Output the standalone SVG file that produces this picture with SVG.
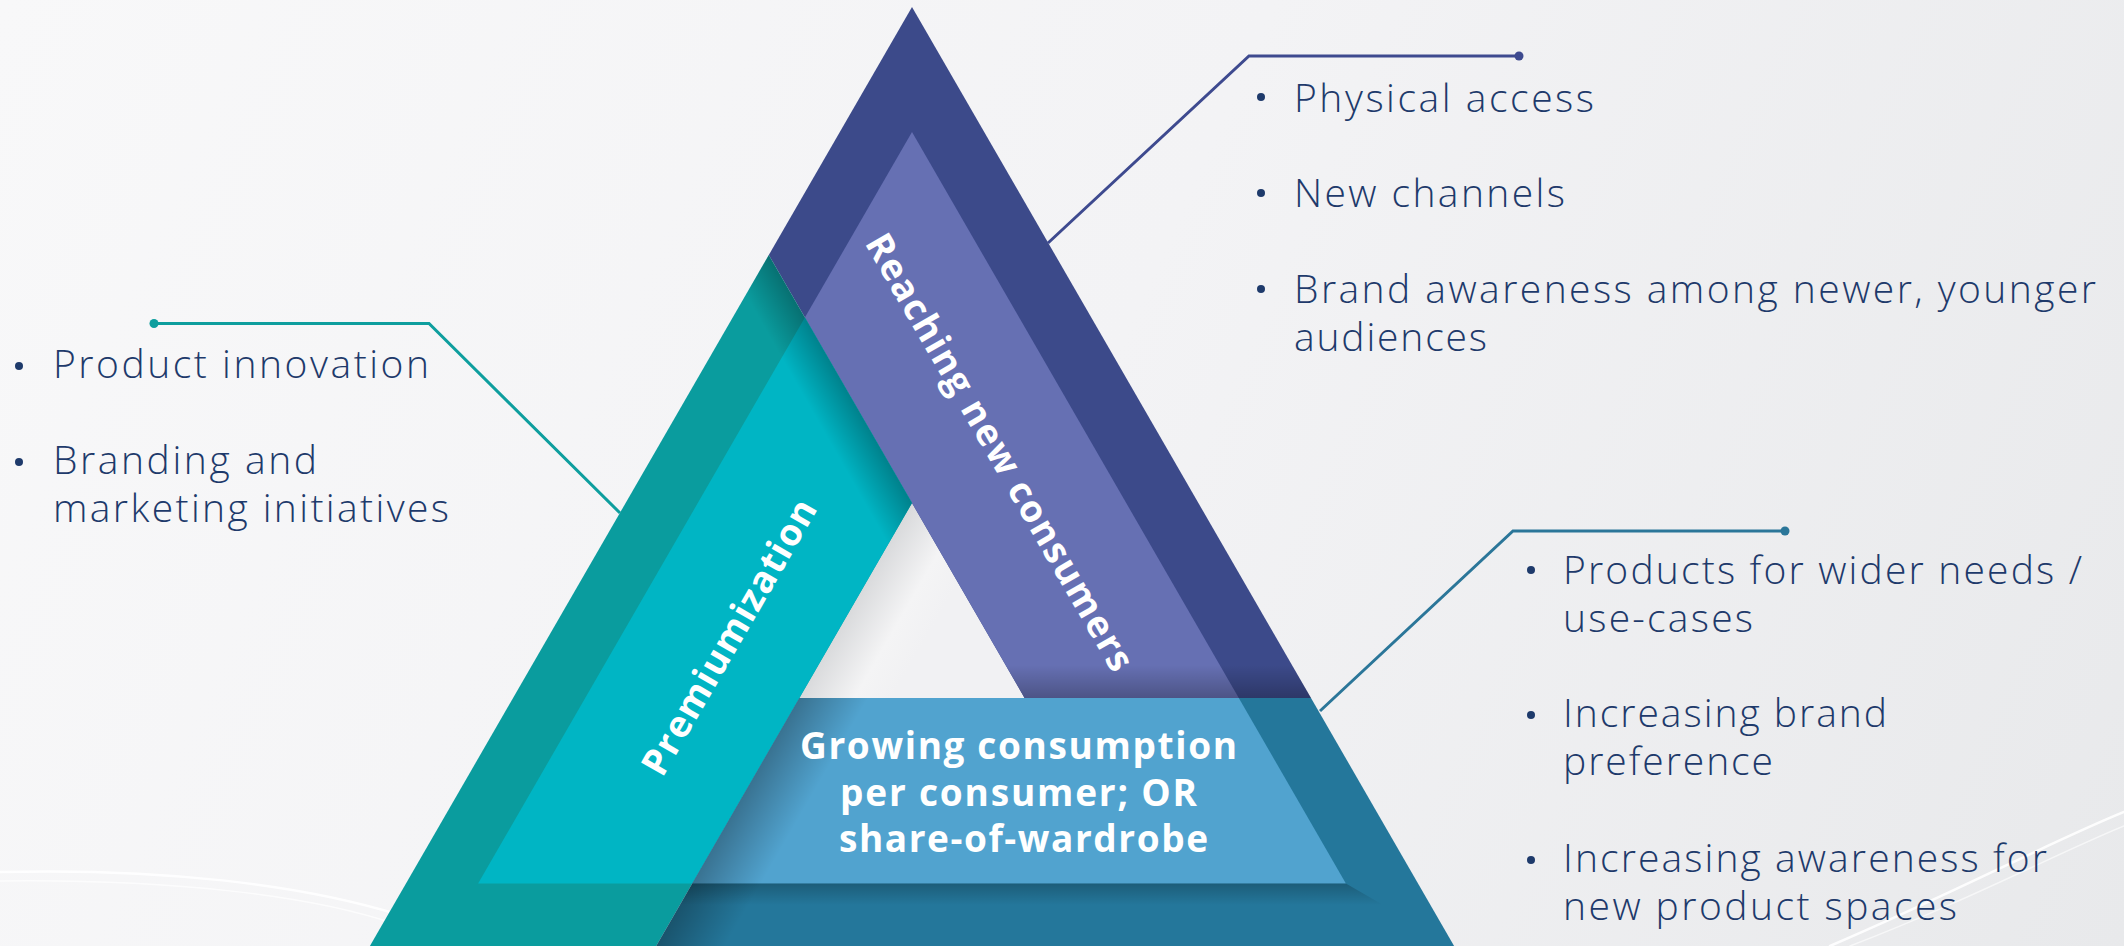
<svg xmlns="http://www.w3.org/2000/svg" width="2124" height="946" viewBox="0 0 2124 946">
<style>
.body{font-family:"Open Sans","Liberation Sans",sans-serif;font-weight:300;font-size:39px;fill:#1E3A6B}
.lbl{font-family:"Open Sans","Liberation Sans",sans-serif;font-weight:700;font-size:37px;fill:#FFFFFF}
.bul{fill:#1E3A6B}
.conn{fill:none;stroke-width:3;stroke-linejoin:miter}
</style>
<defs>
<linearGradient id="bg" x1="0" y1="0" x2="2124" y2="946" gradientUnits="userSpaceOnUse">
<stop offset="0" stop-color="#F8F8F9"/><stop offset="0.5" stop-color="#F3F3F5"/><stop offset="1" stop-color="#E8E9EB"/>
</linearGradient>
<linearGradient id="holeG" x1="856" y1="600" x2="925" y2="640" gradientUnits="userSpaceOnUse">
<stop offset="0" stop-color="#D9DADC"/><stop offset="0.6" stop-color="#F4F4F5"/><stop offset="1" stop-color="#F1F1F3"/>
</linearGradient>
<linearGradient id="shTeal" x1="840" y1="379" x2="805" y2="399" gradientUnits="userSpaceOnUse">
<stop offset="0" stop-color="#000" stop-opacity="0.28"/><stop offset="1" stop-color="#000" stop-opacity="0"/>
</linearGradient>
<linearGradient id="shBottom" x1="746" y1="790" x2="798" y2="820" gradientUnits="userSpaceOnUse">
<stop offset="0" stop-color="#000" stop-opacity="0.3"/><stop offset="1" stop-color="#000" stop-opacity="0"/>
</linearGradient>
<linearGradient id="shPurple" x1="0" y1="698" x2="0" y2="665" gradientUnits="userSpaceOnUse">
<stop offset="0" stop-color="#000" stop-opacity="0.25"/><stop offset="1" stop-color="#000" stop-opacity="0"/>
</linearGradient>
<linearGradient id="shBase" x1="0" y1="883.5" x2="0" y2="905" gradientUnits="userSpaceOnUse">
<stop offset="0" stop-color="#000" stop-opacity="0.22"/><stop offset="1" stop-color="#000" stop-opacity="0"/>
</linearGradient>
</defs>

<rect x="0" y="0" width="2124" height="946" fill="url(#bg)"/>
<g id="swooshes" fill="none" stroke="#FFFFFF" stroke-linecap="round">
<path d="M0,872 C160,868 300,884 400,915" stroke-width="2.5" stroke-opacity="0.9"/>
<path d="M0,881 C170,879 310,895 395,924" stroke-width="1.5" stroke-opacity="0.7"/>
<path d="M1830,946 C1950,895 2050,842 2124,812" stroke-width="2.5" stroke-opacity="0.9"/>
<path d="M1850,946 C1965,902 2060,852 2124,826" stroke-width="1.5" stroke-opacity="0.6"/>
</g>

<g id="hole">
<polygon points="912,503 1024.6,698 799.4,698" fill="url(#holeG)"/>
</g>

<g id="node-reaching">
<polygon points="912,7 1311,698 1024.6,698 912,503 768.8,255" fill="#3C4A8A"/>
<polygon points="912,132 1238.8,698 1024.6,698 912,503 804.9,317.5" fill="#6670B3"/>
<polygon points="912,7 1311,698 1024.6,698 912,503 768.8,255" fill="url(#shPurple)"/>
<text class="lbl" transform="translate(1000,452) rotate(60)" x="0" y="13" text-anchor="middle" textLength="498" lengthAdjust="spacing">Reaching new consumers</text>
</g>

<g id="node-premiumization">
<polygon points="768.8,255 912,503 656.2,946 369.9,946" fill="#0A9C9E"/>
<polygon points="804.9,317.5 912,503 692.3,883.5 478.1,883.5" fill="#00B5C4"/>
<polygon points="768.8,255 912,503 656.2,946 369.9,946" fill="url(#shTeal)"/>
<text class="lbl" transform="translate(729,637) rotate(-60)" x="0" y="13" text-anchor="middle" textLength="312" lengthAdjust="spacing">Premiumization</text>
</g>

<g id="node-growing">
<polygon points="799.4,698 1311,698 1454.1,946 656.2,946" fill="#24779B"/>
<polygon points="799.4,698 1238.8,698 1345.9,883.5 692.3,883.5" fill="#51A3CF"/>
<polygon points="692.3,883.5 1345.9,883.5 1454.1,946 656.2,946" fill="url(#shBase)"/>
<polygon points="799.4,698 1311,698 1454.1,946 656.2,946" fill="url(#shBottom)"/>
<text class="lbl" x="800" y="759" textLength="437" lengthAdjust="spacing">Growing consumption</text>
<text class="lbl" x="840" y="806" textLength="357" lengthAdjust="spacing">per consumer; OR</text>
<text class="lbl" x="839" y="852" textLength="369" lengthAdjust="spacing">share-of-wardrobe</text>
</g>

<g id="connectors">
<polyline class="conn" points="154,323.5 429,323.5 620,513" stroke="#0E9E9E"/>
<circle cx="154" cy="323.5" r="4.5" fill="#0E9E9E"/>
<polyline class="conn" points="1519,56 1249,56 1048,243" stroke="#3E4A8F"/>
<circle cx="1519" cy="56" r="4.5" fill="#3E4A8F"/>
<polyline class="conn" points="1785,531 1513,531 1320,711" stroke="#2B7699"/>
<circle cx="1785" cy="531" r="4.5" fill="#2B7699"/>
</g>

<g id="list-left">
<circle class="bul" cx="19" cy="366" r="4"/>
<text class="body" x="53" y="378" textLength="376" lengthAdjust="spacing">Product innovation</text>
<circle class="bul" cx="19" cy="462" r="4"/>
<text class="body" x="53" y="474" textLength="264" lengthAdjust="spacing">Branding and</text>
<text class="body" x="53" y="522" textLength="396" lengthAdjust="spacing">marketing initiatives</text>
</g>

<g id="list-top-right">
<circle class="bul" cx="1261" cy="97" r="4"/>
<text class="body" x="1294" y="112" textLength="300" lengthAdjust="spacing">Physical access</text>
<circle class="bul" cx="1261" cy="193" r="4"/>
<text class="body" x="1294" y="207" textLength="271" lengthAdjust="spacing">New channels</text>
<circle class="bul" cx="1261" cy="289" r="4"/>
<text class="body" x="1294" y="303" textLength="802" lengthAdjust="spacing">Brand awareness among newer, younger</text>
<text class="body" x="1294" y="351" textLength="193" lengthAdjust="spacing">audiences</text>
</g>

<g id="list-bottom-right">
<circle class="bul" cx="1531" cy="570" r="4"/>
<text class="body" x="1563" y="584" textLength="519" lengthAdjust="spacing">Products for wider needs /</text>
<text class="body" x="1563" y="632" textLength="190" lengthAdjust="spacing">use-cases</text>
<circle class="bul" cx="1531" cy="715" r="4"/>
<text class="body" x="1563" y="727" textLength="324" lengthAdjust="spacing">Increasing brand</text>
<text class="body" x="1563" y="775" textLength="210" lengthAdjust="spacing">preference</text>
<circle class="bul" cx="1531" cy="860" r="4"/>
<text class="body" x="1563" y="872" textLength="484" lengthAdjust="spacing">Increasing awareness for</text>
<text class="body" x="1563" y="920" textLength="394" lengthAdjust="spacing">new product spaces</text>
</g>
</svg>
